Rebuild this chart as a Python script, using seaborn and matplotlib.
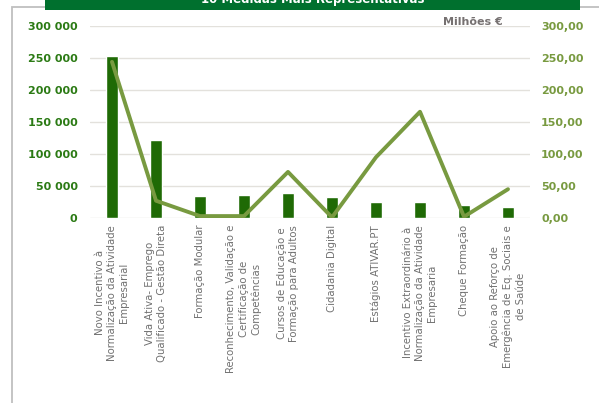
import matplotlib
matplotlib.use("Agg")
import matplotlib.pyplot as plt
import matplotlib.patches as mpatches
import matplotlib.ticker as mticker
import seaborn as sns
import pandas as pd

# Data
medidas = [
    "Novo Incentivo à\nNormalização da Atividade\nEmpresarial",
    "Vida Ativa- Emprego\nQualificado - Gestão Direta",
    "Formação Modular",
    "Reconhecimento, Validação e\nCertificação de\nCompetências",
    "Cursos de Educação e\nFormação para Adultos",
    "Cidadania Digital",
    "Estágios ATIVAR.PT",
    "Incentivo Extraordinário à\nNormalização da Atividade\nEmpresaria",
    "Cheque Formação",
    "Apoio ao Reforço de\nEmergência de Eq. Sociais e\nde Saúde",
]
abrangidos = [253000, 122000, 34000, 36000, 39000, 33000, 25000, 25000, 20000, 17000]
montante_meur = [244, 27, 3, 3, 72, 1, 95, 166, 2, 45]

left_ticks = [0, 50000, 100000, 150000, 200000, 250000, 300000]
right_ticks = [0, 50, 100, 150, 200, 250, 300]
title = "10 Medidas Mais Representativas"

bar_color = "#1F6A05"
line_color = "#789A40"
left_lbl_color = "#2B7A14"
banner_color = "#00702E"

df = pd.DataFrame({"medida": medidas, "abrangidos": abrangidos, "montante": montante_meur})

sns.set_style("white")
plt.rcParams["font.family"] = ["DejaVu Sans"]

fig = plt.figure(figsize=(5.99, 4.03), dpi=100)
ax = fig.add_axes([90 / 599, 1 - 218 / 403, 440 / 599, 192 / 403])

sns.barplot(data=df, x="medida", y="abrangidos", color=bar_color, width=0.29,
            saturation=1, ax=ax, zorder=2)
ax.set_ylim(0, 300000)
ax.set_xlim(-0.5, len(medidas) - 0.5)
ax.set_yticks(left_ticks)
ax.yaxis.set_major_formatter(mticker.FuncFormatter(lambda v, p: f"{int(v):,}".replace(",", " ")))
ax.grid(axis="y", color="#E3E1DC", lw=1.0, zorder=0)
ax.set_axisbelow(True)
ax.set_xlabel("")
ax.set_ylabel("")
for s in ax.spines.values():
    s.set_visible(False)
ax.tick_params(axis="y", length=0, pad=9, labelsize=8, labelcolor=left_lbl_color)
for t in ax.get_yticklabels():
    t.set_fontweight("bold")
ax.tick_params(axis="x", length=0, pad=5)
ax.set_xticks(range(len(medidas)))
ax.set_xticklabels(medidas, rotation=90, fontsize=7.3, color="#707070",
                   multialignment="center", linespacing=1.3)

ax2 = ax.twinx()
sns.lineplot(data=df, x="medida", y="montante", sort=False, color=line_color,
             lw=2.8, ax=ax2, zorder=3)
ax2.set_ylim(0, 300)
ax2.set_yticks(right_ticks)
ax2.yaxis.set_major_formatter(mticker.FuncFormatter(lambda v, p: f"{v:.2f}".replace(".", ",")))
ax2.set_ylabel("")
ax2.set_xlabel("")
for s in ax2.spines.values():
    s.set_visible(False)
ax2.tick_params(axis="y", length=0, pad=8, labelsize=8, labelcolor=line_color)
for t in ax2.get_yticklabels():
    t.set_fontweight("bold")

fig.text(503 / 599, 1 - 22 / 403, "Milhões €", ha="right", va="center",
         fontsize=8, fontweight="bold", color="#767171")

# outer frame and title banner (title is cut off by the top edge in the original)
fig.patches.append(mpatches.Rectangle((12 / 599, -0.1), 1.2, 1.1 - 7 / 403, fill=False,
                                      ec="#BFBFBF", lw=1.3, transform=fig.transFigure, zorder=1))
fig.patches.append(mpatches.Rectangle((45 / 599, 1 - 10 / 403), 535 / 599, 0.1,
                                      fc=banner_color, ec="none", transform=fig.transFigure, zorder=2))
fig.text(313 / 599, 1 - 3 / 403, title, ha="center", va="baseline", fontsize=8.5,
         fontweight="bold", color="white", zorder=3)

fig.savefig("out.png", dpi=100)
